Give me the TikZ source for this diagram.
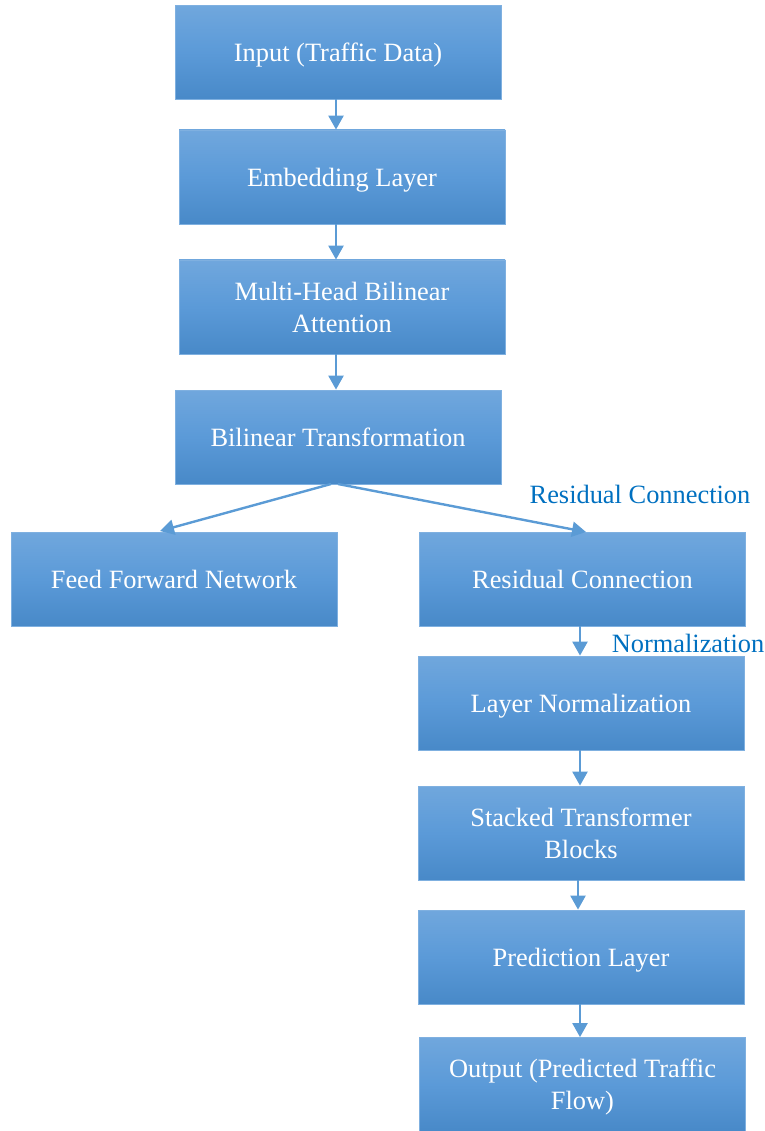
\documentclass[tikz,border=0pt]{standalone}
\usepackage{fontspec}
\setmainfont{Liberation Serif}
\usetikzlibrary{arrows.meta}
\definecolor{boxtop}{HTML}{70A7DD}
\definecolor{boxmid}{HTML}{5B9AD8}
\definecolor{boxbot}{HTML}{4889C8}
\definecolor{boxedge}{HTML}{7FB0E0}
\definecolor{arrowc}{HTML}{5B9BD5}
\definecolor{labc}{HTML}{0070C0}
\tikzset{
  blk/.style={rectangle, draw=boxedge, line width=0.8pt, top color=boxtop, bottom color=boxbot, middle color=boxmid,
    minimum width=326pt, minimum height=94pt, inner sep=0pt, text=white, font=\fontsize{26.4}{32}\selectfont, align=center, text depth=0pt},
  arr/.style={draw=arrowc, line width=2.4pt, -{Triangle[width=15pt,length=14pt]}},
  lab/.style={text=labc, font=\fontsize{26.4}{32}\selectfont, inner sep=0pt}
}
\begin{document}
\begin{tikzpicture}[x=1pt,y=-1pt]
\useasboundingbox (0,0) rectangle (764,1131);
\node[blk] (in) at (338,52.5) {Input (Traffic Data)};
\node[blk] (emb) at (342,177) {Embedding Layer};
\node[blk] (mh) at (342,307) {Multi-Head Bilinear\\Attention};
\node[blk] (bt) at (338,437) {Bilinear Transformation};
\node[blk] (ffn) at (174,579) {Feed Forward Network};
\node[blk] (rc) at (582.5,579) {Residual Connection};
\node[blk] (ln) at (581,703) {Layer Normalization};
\node[blk] (st) at (581,833) {Stacked Transformer\\Blocks};
\node[blk] (pl) at (581,957) {Prediction Layer};
\node[blk] (out) at (582.5,1084.5) {Output (Predicted Traffic\\Flow)};
\node[lab] (l1) at (640,494) {Residual Connection};
\node[lab] (l2) at (688,643) {Normalization};
\coordinate (a1) at (336,99);
\draw[arr] (a1) -- (a1 |- emb.north);
\coordinate (a2) at (336,224);
\draw[arr] (a2) -- (a2 |- mh.north);
\coordinate (a3) at (336,354);
\draw[arr] (a3) -- (a3 |- bt.north);
\coordinate (b1) at (331,484);
\coordinate (b2) at (160,531);
\draw[arr] (b1) -- (b2);
\coordinate (c1) at (338,484);
\coordinate (c2) at (586,532);
\draw[arr] (c1) -- (c2);
\coordinate (d1) at (580,626);
\draw[arr] (d1) -- (d1 |- ln.north);
\coordinate (d2) at (580,750);
\draw[arr] (d2) -- (d2 |- st.north);
\coordinate (d3) at (578,880);
\draw[arr] (d3) -- (d3 |- pl.north);
\coordinate (d4) at (580,1004);
\draw[arr] (d4) -- (d4 |- out.north);
\end{tikzpicture}
\end{document}
